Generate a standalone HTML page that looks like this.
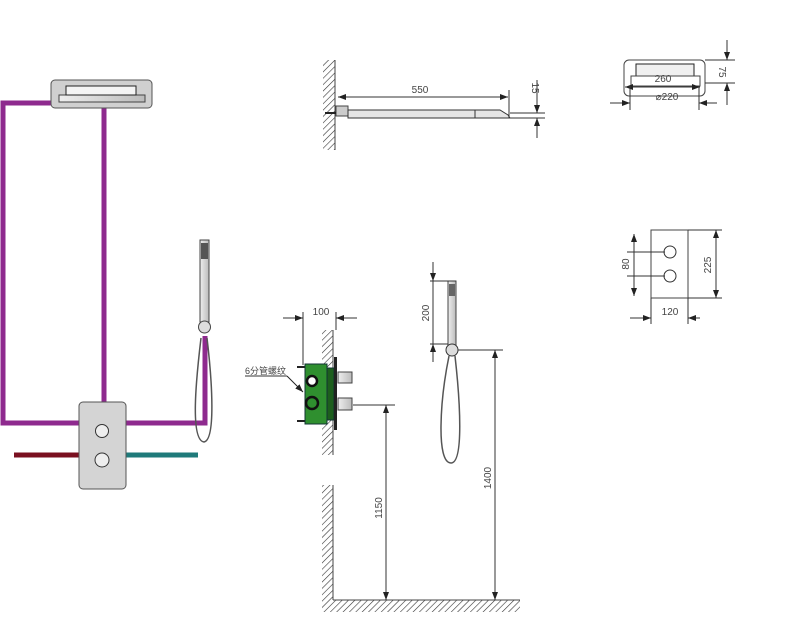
<!DOCTYPE html>
<html><head><meta charset="utf-8"><style>
html,body{margin:0;padding:0;background:#fff}
svg{display:block}
text{font-family:"Liberation Sans","Noto Sans CJK SC",sans-serif;fill:#444;font-size:10px}
</style></head><body>
<svg width="800" height="623" viewBox="0 0 800 623" xmlns="http://www.w3.org/2000/svg">
<defs>
<pattern id="h" width="4.5" height="4.5" patternUnits="userSpaceOnUse" patternTransform="rotate(45)">
<line x1="0" y1="0" x2="0" y2="4.5" stroke="#333" stroke-width="1.2"/>
</pattern>
<marker id="a" markerWidth="8" markerHeight="6" refX="8" refY="3" orient="auto-start-reverse" markerUnits="userSpaceOnUse">
<path d="M0,0 L8,3 L0,6z" fill="#222"/>
</marker>
<linearGradient id="g" x1="0" x2="1"><stop offset="0" stop-color="#eee"/><stop offset="1" stop-color="#bbb"/></linearGradient>
</defs>

<!-- LEFT SCHEMATIC -->
<g fill="none" stroke="#8e2a8e" stroke-width="5">
<polyline points="52,103 3,103 3,423 80,423"/>
<line x1="104" y1="108" x2="104" y2="403"/>
<polyline points="126,423 205,423 205,336"/>
</g>
<line x1="14" y1="455" x2="80" y2="455" stroke="#7a1020" stroke-width="5"/>
<line x1="126" y1="455" x2="198" y2="455" stroke="#1f7a7a" stroke-width="5"/>
<rect x="51" y="80" width="101" height="28" rx="4" fill="#d0d0d0" stroke="#555"/>
<rect x="59" y="95" width="86" height="7" fill="url(#g)" stroke="#444"/>
<rect x="66" y="86" width="70" height="9" fill="#f4f4f4" stroke="#222"/>
<rect x="79" y="402" width="47" height="87" rx="4" fill="#d4d4d4" stroke="#555"/>
<circle cx="102" cy="431" r="6.5" fill="#eee" stroke="#333"/>
<circle cx="102" cy="460" r="7" fill="#eee" stroke="#333"/>
<path d="M201,338 C196,380 190,440 204,442 C216,440 212,380 207,338" fill="none" stroke="#555" stroke-width="1.5"/>
<rect x="200" y="240" width="9" height="82" fill="url(#g)" stroke="#444"/>
<rect x="201" y="243" width="7" height="16" fill="#555"/>
<circle cx="204.5" cy="327" r="6" fill="#ddd" stroke="#444"/>

<!-- TOP MIDDLE -->
<rect x="323" y="60" width="12" height="90" fill="url(#h)"/>
<line x1="335" y1="60" x2="335" y2="150" stroke="#444"/>
<rect x="336" y="106" width="12" height="10" fill="#ccc" stroke="#444"/>
<path d="M348,110 L500,110 L508,115 L510,118 L348,118z" fill="#e5e5e5" stroke="#333"/>
<line x1="475" y1="110" x2="475" y2="118" stroke="#333"/>
<line x1="325" y1="113" x2="336" y2="113" stroke="#222" stroke-width="2"/>
<line x1="338" y1="97" x2="508" y2="97" stroke="#333" marker-start="url(#a)" marker-end="url(#a)"/>
<line x1="509" y1="90" x2="509" y2="118" stroke="#333"/>
<text x="420" y="93" text-anchor="middle">550</text>
<line x1="510" y1="113" x2="545" y2="113" stroke="#333"/>
<line x1="510" y1="118" x2="545" y2="118" stroke="#333"/>
<line x1="537" y1="80" x2="537" y2="113" stroke="#333" marker-end="url(#a)"/>
<line x1="537" y1="138" x2="537" y2="118" stroke="#333" marker-end="url(#a)"/>
<text transform="translate(532,88) rotate(90)" text-anchor="middle">15</text>

<!-- TOP RIGHT -->
<rect x="624" y="60" width="81" height="36" rx="5" fill="#fff" stroke="#444"/>
<rect x="636" y="64" width="58" height="12" fill="#f0f0f0" stroke="#222"/>
<rect x="631" y="76" width="69" height="10" fill="#fff" stroke="#444"/>
<line x1="625" y1="87" x2="700" y2="87" stroke="#333" marker-start="url(#a)" marker-end="url(#a)"/>
<text x="663" y="82" text-anchor="middle">260</text>
<line x1="630" y1="86" x2="630" y2="110" stroke="#333"/>
<line x1="699" y1="86" x2="699" y2="110" stroke="#333"/>
<line x1="610" y1="103" x2="630" y2="103" stroke="#333" marker-end="url(#a)"/>
<line x1="717" y1="103" x2="699" y2="103" stroke="#333" marker-end="url(#a)"/>
<text x="667" y="100" text-anchor="middle">⌀220</text>
<line x1="705" y1="60" x2="735" y2="60" stroke="#333"/>
<line x1="705" y1="83" x2="735" y2="83" stroke="#333"/>
<line x1="727" y1="40" x2="727" y2="60" stroke="#333" marker-end="url(#a)"/>
<line x1="727" y1="105" x2="727" y2="83" stroke="#333" marker-end="url(#a)"/>
<text transform="translate(719,72) rotate(90)" text-anchor="middle">75</text>

<!-- valve plate right -->
<rect x="651" y="230" width="37" height="68" fill="#fff" stroke="#444"/>
<circle cx="670" cy="252" r="6" fill="#fff" stroke="#333"/>
<circle cx="670" cy="276" r="6" fill="#fff" stroke="#333"/>
<line x1="627" y1="252" x2="665" y2="252" stroke="#333"/>
<line x1="627" y1="276" x2="665" y2="276" stroke="#333"/>
<line x1="634" y1="234" x2="634" y2="252" stroke="#333" marker-start="url(#a)"/>
<line x1="634" y1="276" x2="634" y2="296" stroke="#333" marker-end="url(#a)"/>
<line x1="634" y1="252" x2="634" y2="276" stroke="#333"/>
<text transform="translate(629,264) rotate(-90)" text-anchor="middle">80</text>
<line x1="688" y1="230" x2="722" y2="230" stroke="#333"/>
<line x1="688" y1="298" x2="722" y2="298" stroke="#333"/>
<line x1="716" y1="230" x2="716" y2="298" stroke="#333" marker-start="url(#a)" marker-end="url(#a)"/>
<text transform="translate(711,265) rotate(-90)" text-anchor="middle">225</text>
<line x1="651" y1="298" x2="651" y2="324" stroke="#333"/>
<line x1="688" y1="298" x2="688" y2="324" stroke="#333"/>
<line x1="630" y1="318" x2="651" y2="318" stroke="#333" marker-end="url(#a)"/>
<line x1="700" y1="318" x2="688" y2="318" stroke="#333" marker-end="url(#a)"/>
<text x="670" y="315" text-anchor="middle">120</text>

<!-- MIDDLE LOWER -->
<rect x="322" y="330" width="11" height="125" fill="url(#h)"/>
<line x1="333" y1="330" x2="333" y2="455" stroke="#444"/>
<rect x="322" y="485" width="11" height="115" fill="url(#h)"/>
<line x1="333" y1="485" x2="333" y2="600" stroke="#444"/>
<rect x="322" y="600" width="198" height="12" fill="url(#h)"/>
<line x1="333" y1="600" x2="520" y2="600" stroke="#444"/>
<line x1="297" y1="367" x2="307" y2="367" stroke="#222" stroke-width="2"/>
<line x1="297" y1="421" x2="307" y2="421" stroke="#222" stroke-width="2"/>
<rect x="305" y="364" width="22" height="60" fill="#2f8f2f" stroke="#133"/>
<rect x="327" y="368" width="7" height="52" fill="#1d5e1d" stroke="#133"/>
<circle cx="312" cy="381" r="5" fill="#fff" stroke="#111" stroke-width="2.5"/>
<circle cx="312" cy="403" r="6" fill="#2f8f2f" stroke="#111" stroke-width="2.5"/>
<rect x="334" y="357" width="3" height="73" fill="#222"/>
<rect x="338" y="372" width="14" height="11" fill="url(#g)" stroke="#444"/>
<rect x="338" y="398" width="14" height="12" fill="url(#g)" stroke="#444"/>
<line x1="303" y1="312" x2="303" y2="365" stroke="#333"/>
<line x1="336" y1="312" x2="336" y2="330" stroke="#333"/>
<line x1="283" y1="318" x2="303" y2="318" stroke="#333" marker-end="url(#a)"/>
<line x1="357" y1="318" x2="336" y2="318" stroke="#333" marker-end="url(#a)"/>
<text x="321" y="315" text-anchor="middle">100</text>
<text x="245" y="374" style="font-size:9px">6分管螺纹</text>
<line x1="245" y1="376" x2="287" y2="376" stroke="#333"/>
<line x1="287" y1="376" x2="303" y2="392" stroke="#222" marker-end="url(#a)"/>
<line x1="353" y1="405" x2="395" y2="405" stroke="#333"/>
<line x1="386" y1="405" x2="386" y2="600" stroke="#333" marker-start="url(#a)" marker-end="url(#a)"/>
<text transform="translate(382,508) rotate(-90)" text-anchor="middle">1150</text>
<path d="M449,356 C440,400 436,463 451,463 C464,463 460,400 455,356" fill="none" stroke="#555" stroke-width="1.5"/>
<rect x="448" y="281" width="8" height="64" fill="url(#g)" stroke="#444"/>
<rect x="449" y="284" width="6" height="12" fill="#666"/>
<circle cx="452" cy="350" r="6" fill="#ddd" stroke="#333"/>
<line x1="430" y1="281" x2="456" y2="281" stroke="#333"/>
<line x1="430" y1="344" x2="448" y2="344" stroke="#333"/>
<line x1="433" y1="262" x2="433" y2="281" stroke="#333" marker-end="url(#a)"/>
<line x1="433" y1="362" x2="433" y2="344" stroke="#333" marker-end="url(#a)"/>
<line x1="433" y1="281" x2="433" y2="344" stroke="#333"/>
<text transform="translate(429,313) rotate(-90)" text-anchor="middle">200</text>
<line x1="458" y1="350" x2="503" y2="350" stroke="#333"/>
<line x1="495" y1="350" x2="495" y2="600" stroke="#333" marker-start="url(#a)" marker-end="url(#a)"/>
<text transform="translate(491,478) rotate(-90)" text-anchor="middle">1400</text>
</svg>
</body></html>
